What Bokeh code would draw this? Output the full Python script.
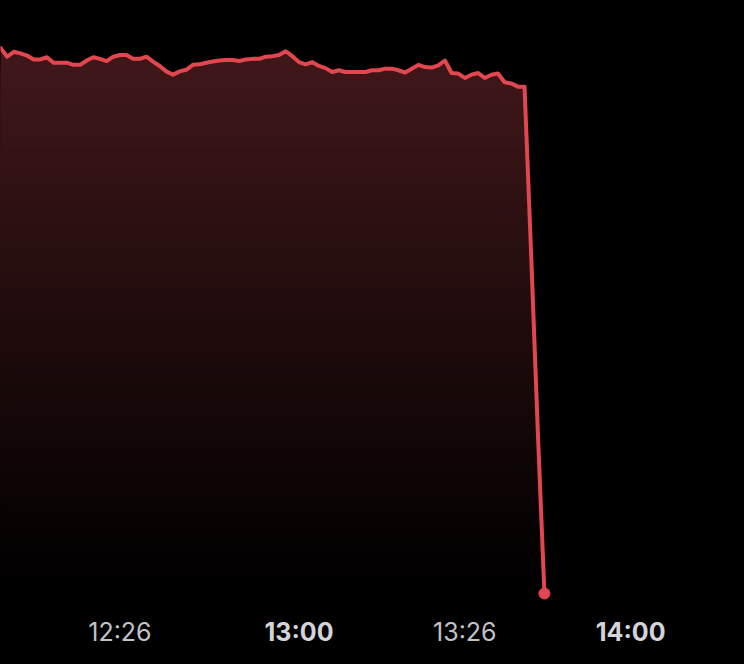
import numpy as np
from bokeh.plotting import figure
from bokeh.models import Range1d, GlobalInlineStyleSheet
from bokeh.core.properties import value
from bokeh.embed import file_html
from bokeh.resources import INLINE

# ---- data ----
level = [
    100.1, 98.5, 99.4, 99.1, 98.7, 98.0, 98.0, 98.4, 97.4, 97.4,
    97.4, 97.0, 97.0, 97.8, 98.4, 98.1, 97.7, 98.5, 98.8, 98.8,
    98.1, 98.1, 98.5, 97.6, 96.8, 95.8, 95.2, 95.8, 96.1, 97.0,
    97.1, 97.4, 97.6, 97.8, 97.9, 97.9, 97.7, 98.0, 98.1, 98.1,
    98.5, 98.6, 98.8, 99.5, 98.6, 97.5, 97.1, 97.5, 96.8, 96.4,
    95.7, 96.0, 95.7, 95.7, 95.7, 95.7, 96.0, 96.0, 96.3, 96.3,
    96.0, 95.6, 96.3, 97.0, 96.6, 96.5, 96.9, 97.8, 95.5, 95.4,
    94.6, 95.2, 95.5, 94.6, 95.2, 95.4, 93.8, 93.6, 93.0, 93.0,
    62.2, 29.9, 0.0,
]
sample = list(range(len(level)))

tick_pos = [18, 45, 70, 95]
tick_labels = ["12:26", "13:00", "13:26", "14:00"]
tick_bold = [False, True, False, True]

# ---- figure ----
W, H = 728, 648
p = figure(width=W, height=H, output_backend="svg", toolbar_location=None,
           x_range=Range1d(0.0, 109.75), y_range=Range1d(-10.09, 108.81),
           x_axis_type=None, y_axis_type=None, min_border=0,
           background_fill_color="#000000", border_fill_color="#000000",
           outline_line_color=None)
p.grid.visible = False
p.stylesheets = [GlobalInlineStyleSheet(css="html, body { background-color: #000000; }")]

# ---- gradient fill under the line (stacked bands) ----
xf = np.linspace(sample[0], sample[-1], (len(sample) - 1) * 20 + 1)
vf = np.interp(xf, sample, level)
vmax = max(level)
top_rgb = np.array([66, 24, 26])
n = 70
for j in range(n, 0, -1):
    hi = vmax * j / n
    t = (j - 0.5) / n
    c = (top_rgb * t).astype(int)
    col = "#%02x%02x%02x" % tuple(c)
    p.varea(x=xf, y1=np.zeros_like(vf), y2=np.minimum(vf, hi), fill_color=col, fill_alpha=1.0)

# ---- line + end dot ----
red = "#e2474f"
p.line(sample, level, line_color=red, line_width=4, line_join="round", line_cap="round")
p.scatter([sample[-1]], [level[-1]], size=11, fill_color=red, line_color=red)

# ---- tick labels ----
label_y = -7.0
for xp, lab, b in zip(tick_pos, tick_labels, tick_bold):
    p.text(x=[xp], y=[label_y], text=[lab], text_align="center", text_baseline="middle",
           text_font=value("Inter"), text_font_size="25px",
           text_font_style="bold" if b else "normal",
           text_color="#d4d4d8" if b else "#c2c2c7")

open("out.html", "w").write(file_html(p, INLINE))
